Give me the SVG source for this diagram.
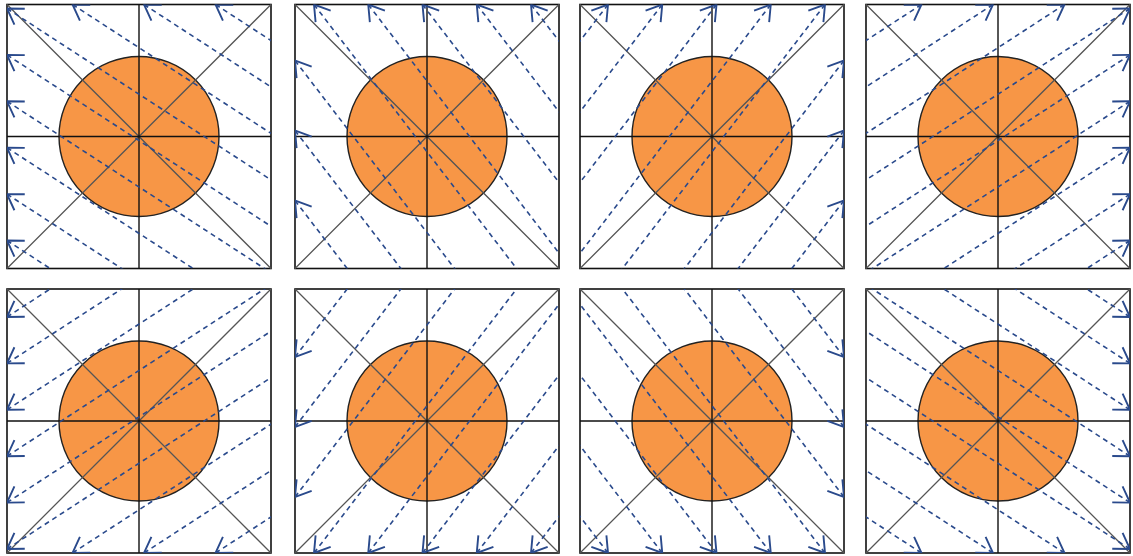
<svg xmlns="http://www.w3.org/2000/svg" xmlns:xlink="http://www.w3.org/1999/xlink" width="1133" height="556" viewBox="0 0 1133 556">
<style>
.frame{fill:#ffffff;stroke:#111111;stroke-width:1.6}
.disk{fill:#f79646;stroke:#222222;stroke-width:1.4}
.axis{stroke:#111111;stroke-width:1.4;fill:none}
.diag{stroke:#555555;stroke-width:1.3;fill:none}
.ray{stroke:#2a4a8c;stroke-width:1.6;stroke-dasharray:5 4;fill:none;marker-start:url(#ah)}
</style>
<defs>
<marker id="ah" markerUnits="userSpaceOnUse" markerWidth="30" markerHeight="30" refX="0" refY="0" orient="auto" overflow="visible">
<path d="M15,-9.5 L0,0 L15,9.5" fill="none" stroke="#2a4a8c" stroke-width="1.9"/>
</marker>
<clipPath id="sq" clipPathUnits="userSpaceOnUse"><rect x="0" y="0" width="264" height="264"/></clipPath>
<g id="base">
<rect class="frame" x="0" y="0" width="264" height="264"/>
<circle class="disk" cx="132" cy="132" r="80"/>
<path class="diag" d="M0,0 L264,264 M264,0 L0,264"/>
<path class="axis" d="M0,132 H264 M132,0 V264"/>
</g>
<g id="rays1" clip-path="url(#sq)">
<path class="ray" d="M0,4 l335.5,217.8"/>
<path class="ray" d="M0,50.4 l335.5,217.8"/>
<path class="ray" d="M0,96.8 l335.5,217.8"/>
<path class="ray" d="M0,143.2 l335.5,217.8"/>
<path class="ray" d="M0,189.6 l335.5,217.8"/>
<path class="ray" d="M0,236 l335.5,217.8"/>
<path class="ray" d="M65.5,0 l335.5,217.8"/>
<path class="ray" d="M137,0 l335.5,217.8"/>
<path class="ray" d="M208.5,0 l335.5,217.8"/>
</g>
<g id="rays2" clip-path="url(#sq)">
<path class="ray" d="M19,0 l243.5,317.4"/>
<path class="ray" d="M73.25,0 l243.5,317.4"/>
<path class="ray" d="M127.5,0 l243.5,317.4"/>
<path class="ray" d="M181.75,0 l243.5,317.4"/>
<path class="ray" d="M236,0 l243.5,317.4"/>
<path class="ray" d="M0,56 l243.5,317.4"/>
<path class="ray" d="M0,126 l243.5,317.4"/>
<path class="ray" d="M0,196 l243.5,317.4"/>
</g>
</defs>
<g id="panel-1" transform="translate(7,4.5)"><use xlink:href="#base"/><g class="connectors"><use xlink:href="#rays1"/></g></g>
<g id="panel-2" transform="translate(295,4.5)"><use xlink:href="#base"/><g class="connectors"><use xlink:href="#rays2"/></g></g>
<g id="panel-3" transform="translate(844,4.5) scale(-1,1)"><use xlink:href="#base"/><g class="connectors"><use xlink:href="#rays2"/></g></g>
<g id="panel-4" transform="translate(1130,4.5) scale(-1,1)"><use xlink:href="#base"/><g class="connectors"><use xlink:href="#rays1"/></g></g>
<g id="panel-5" transform="translate(7,553) scale(1,-1)"><use xlink:href="#base"/><g class="connectors"><use xlink:href="#rays1"/></g></g>
<g id="panel-6" transform="translate(295,553) scale(1,-1)"><use xlink:href="#base"/><g class="connectors"><use xlink:href="#rays2"/></g></g>
<g id="panel-7" transform="translate(844,553) scale(-1,-1)"><use xlink:href="#base"/><g class="connectors"><use xlink:href="#rays2"/></g></g>
<g id="panel-8" transform="translate(1130,553) scale(-1,-1)"><use xlink:href="#base"/><g class="connectors"><use xlink:href="#rays1"/></g></g>
</svg>
